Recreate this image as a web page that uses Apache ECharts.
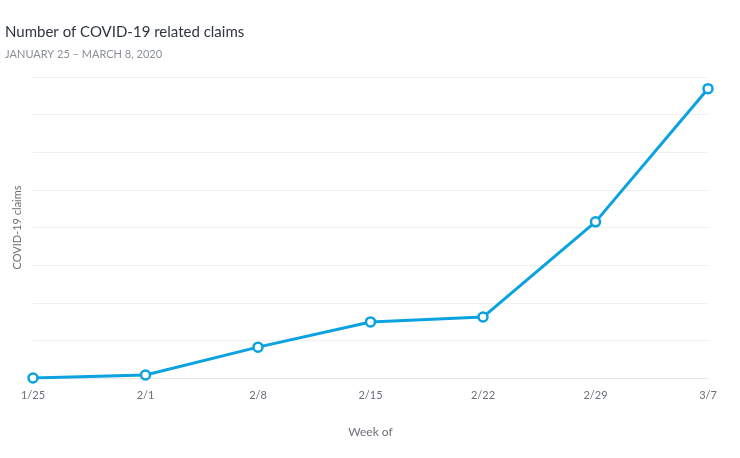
<!DOCTYPE html>
<html><head><meta charset="utf-8">
<script src="https://cdn.jsdelivr.net/npm/echarts@6/dist/echarts.min.js"></script>
<style>html,body{margin:0;background:#fff}#c{width:740px;height:458px}</style>
</head><body><div id="c"></div>
<script>
// 数据
var weeks = ['1/25', '2/1', '2/8', '2/15', '2/22', '2/29', '3/7'];
var claims = [0, 0.08, 0.82, 1.49, 1.62, 4.15, 7.69];

var chart = echarts.init(document.getElementById('c'));
var option = {
    animation: false,
    title: {
        text: 'Number of COVID-19 related claims',
        subtext: 'JANUARY 25 \u2013 MARCH 8, 2020',
        left: 0, top: 20,
        itemGap: 9,
        textStyle: { fontFamily: 'Lato', fontSize: 15, fontWeight: 'normal', color: '#2f3542' },
        subtextStyle: { fontFamily: 'Lato', fontSize: 11, color: '#8a8f98' }
    },
    grid: { left: 33, right: 32, top: 77, bottom: 80 },
    xAxis: {
        type: 'category',
        data: weeks,
        boundaryGap: false,
        name: 'Week of',
        nameLocation: 'middle',
        nameGap: 48,
        nameTextStyle: { color: '#6b7079', fontSize: 12, fontFamily: 'Lato' },
        axisLine: { lineStyle: { color: '#e8e8e8' } },
        axisTick: { show: false },
        axisLabel: { color: '#6b7079', fontSize: 11, margin: 12, fontFamily: 'Lato' }
    },
    yAxis: {
        type: 'value',
        min: 0, max: 8, interval: 1,
        name: 'COVID-19 claims',
        nameLocation: 'middle',
        nameGap: 10,
        nameTextStyle: { color: '#6b7079', fontSize: 11, fontFamily: 'Lato' },
        axisLabel: { show: false },
        axisLine: { show: false },
        axisTick: { show: false },
        splitLine: { lineStyle: { color: '#f0f0f0' } }
    },
    series: [{
        type: 'line',
        data: claims,
        symbol: 'circle',
        symbolSize: 9,
        lineStyle: { color: '#0aa2e0', width: 3 },
        itemStyle: { color: '#ffffff', borderColor: '#0aa2e0', borderWidth: 2.5 }
    }]
};
chart.setOption(option);
</script></body></html>
